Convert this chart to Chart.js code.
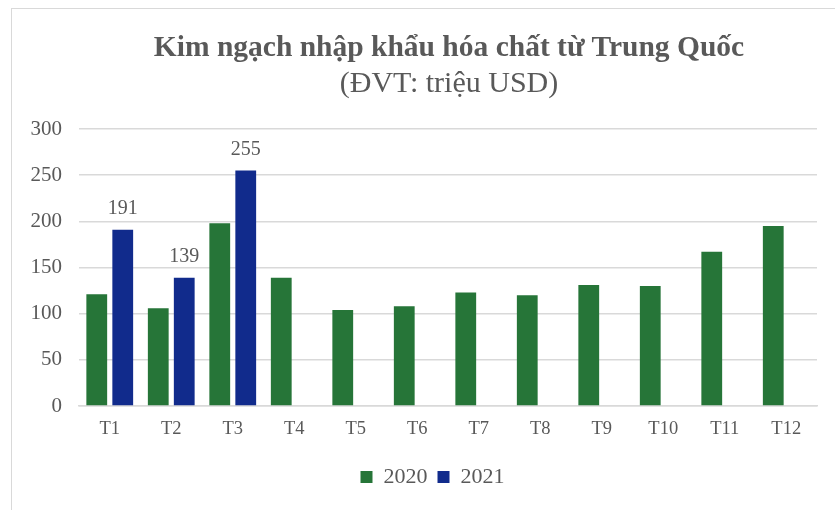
<!DOCTYPE html>
<html>
<head>
<meta charset="utf-8">
<script src="https://cdn.jsdelivr.net/npm/chart.js@4"></script>
<style>
  html, body { margin: 0; padding: 0; background: #fff; }
  body { width: 835px; height: 510px; position: relative; overflow: hidden; font-family: "Liberation Serif", "Times New Roman", serif; }
  #frame { position: absolute; left: 11px; top: 8px; width: 900px; height: 600px; border: 1px solid #d9d9d9; box-sizing: border-box; }
  #title { position: absolute; left: 49px; width: 800px; top: 28px; text-align: center; color: #595959; font-weight: bold; font-size: 29.5px; line-height: 36px; }
  #subtitle { position: absolute; left: 49px; width: 800px; top: 64px; text-align: center; color: #595959; font-size: 30px; line-height: 36px; }
  #wrap { position: absolute; left: 0; top: 0; width: 835px; height: 510px; }
</style>
</head>
<body>
<div id="frame"></div>
<div id="wrap"><canvas id="c" width="835" height="510"></canvas></div>
<div id="title">Kim ngạch nhập khẩu hóa chất từ Trung Quốc</div>
<div id="subtitle">(ĐVT: triệu USD)</div>
<script>
const categories = ["T1","T2","T3","T4","T5","T6","T7","T8","T9","T10","T11","T12"];
const values2020 = [121, 106, 198, 139, 104, 108, 123, 120, 131, 130, 167, 195];
const values2021 = [191, 139, 255, null, null, null, null, null, null, null, null, null];
const seriesNames = ["2020", "2021"];
const yTicks = [0, 50, 100, 150, 200, 250, 300];

const textColor = "#595959";
const fontFamily = "'Liberation Serif', 'Times New Roman', serif";

const valueLabels = {
  id: "valueLabels",
  afterLayout(chart) {
    if (chart.legend) { chart.legend.left += 18; chart.legend.right += 18; }
  },
  afterDatasetsDraw(chart) {
    const ctx = chart.ctx;
    const meta = chart.getDatasetMeta(1);
    const ds = chart.data.datasets[1];
    ctx.save();
    ctx.fillStyle = textColor;
    ctx.font = "20px " + fontFamily;
    ctx.textAlign = "center";
    ctx.textBaseline = "alphabetic";
    meta.data.forEach((bar, i) => {
      const v = ds.data[i];
      if (v === null || v === undefined) return;
      ctx.fillText(String(v), bar.x, bar.y - 16);
    });
    ctx.restore();
  }
};

new Chart(document.getElementById("c"), {
  type: "bar",
  data: {
    labels: categories,
    datasets: [
      { label: seriesNames[0], data: values2020, backgroundColor: "#267538", categoryPercentage: 0.845, barPercentage: 0.8 },
      { label: seriesNames[1], data: values2021, backgroundColor: "#112B8C", categoryPercentage: 0.845, barPercentage: 0.8 }
    ]
  },
  options: {
    responsive: false,
    animation: false,
    devicePixelRatio: 1,
    layout: { padding: { left: 12, right: 18, top: 129, bottom: 12 } },
    plugins: {
      title: { display: false },
      tooltip: { enabled: false },
      legend: {
        position: "bottom",
        labels: {
          color: textColor,
          font: { family: fontFamily, size: 22 },
          boxWidth: 12,
          boxHeight: 12,
          padding: 10
        }
      }
    },
    scales: {
      x: {
        grid: { display: false, drawTicks: false },
        border: { display: true, color: "#d9d9d9", width: 1.5 },
        ticks: { color: textColor, font: { family: fontFamily, size: 18.5 }, padding: 12, maxRotation: 0 },
        afterFit(scale) { scale.height = 50; }
      },
      y: {
        min: 0, max: 300,
        afterBuildTicks(scale) { scale.ticks = yTicks.map(v => ({ value: v })); },
        grid: { color: "#d9d9d9", lineWidth: 1.5, drawTicks: false },
        border: { display: false },
        ticks: { color: textColor, font: { family: fontFamily, size: 21 }, padding: 17 },
        afterFit(scale) { scale.width = 67; }
      }
    }
  },
  plugins: [valueLabels]
});
</script>
</body>
</html>
